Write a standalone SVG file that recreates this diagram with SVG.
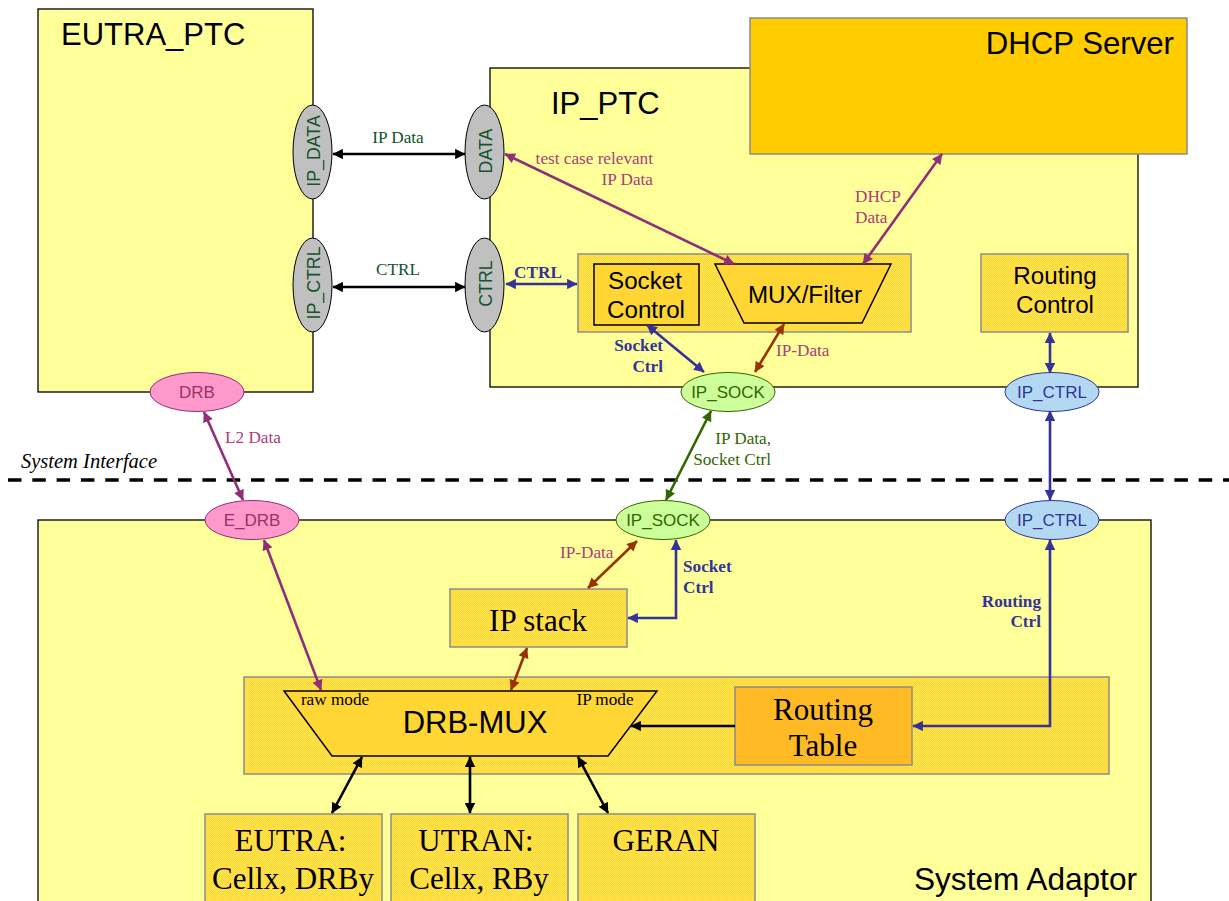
<svg xmlns="http://www.w3.org/2000/svg" width="1229" height="901" viewBox="0 0 1229 901">
<style>
text{font-family:"Liberation Serif",serif}
.a{font-family:"Liberation Sans",sans-serif}
.m{text-anchor:middle}.e{text-anchor:end}
.big{fill:#ffff99;stroke:#000;stroke-width:1.3}
.y{fill:url(#dither);stroke:#8c8c8c;stroke-width:1.5}
.t{fill:#ffd633;stroke:#000;stroke-width:1.5}
.g{fill:#c0c0c0;stroke:#000;stroke-width:1}
.l{font-size:17.2px}
.p{fill:#a8417c}.b{fill:#333399;font-weight:bold}.d{fill:#14532d}
.c{fill:none;stroke-width:2.6}
.k{stroke:#000}.bl{stroke:#333399}.pu{stroke:#8f2f78}.br{stroke:#993300}.gr{stroke:#336600}
.h1{font-size:31px}.h2{font-size:24.2px}
.s{font-size:31px}
.pt{font-size:17px}
.rt{font-size:17.8px}
</style>
<defs>
<pattern id="dither" width="2" height="2" patternUnits="userSpaceOnUse"><rect width="2" height="2" fill="#ffd633"/><rect width="1" height="1" fill="#ffe650"/><rect x="1" y="1" width="1" height="1" fill="#ffe650"/></pattern>
<pattern id="dither2" width="2" height="2" patternUnits="userSpaceOnUse"><rect width="2" height="2" fill="#ffb31a"/><rect width="1" height="1" fill="#ffc02e"/><rect x="1" y="1" width="1" height="1" fill="#ffc02e"/></pattern>
<marker id="mk" viewBox="0 0 10 10" refX="9.5" refY="5" markerWidth="4.2" markerHeight="4" orient="auto-start-reverse"><path d="M0 0L10 5L0 10z" fill="#000"/></marker>
<marker id="mb" viewBox="0 0 10 10" refX="9.5" refY="5" markerWidth="4.2" markerHeight="4" orient="auto-start-reverse"><path d="M0 0L10 5L0 10z" fill="#333399"/></marker>
<marker id="mp" viewBox="0 0 10 10" refX="9.5" refY="5" markerWidth="4.2" markerHeight="4" orient="auto-start-reverse"><path d="M0 0L10 5L0 10z" fill="#8f2f78"/></marker>
<marker id="mr" viewBox="0 0 10 10" refX="9.5" refY="5" markerWidth="4.2" markerHeight="4" orient="auto-start-reverse"><path d="M0 0L10 5L0 10z" fill="#993300"/></marker>
<marker id="mg" viewBox="0 0 10 10" refX="9.5" refY="5" markerWidth="4.2" markerHeight="4" orient="auto-start-reverse"><path d="M0 0L10 5L0 10z" fill="#336600"/></marker>
</defs>
<rect width="1229" height="901" fill="#fff"/>
<g id="eutra-ptc"><rect class="big" x="38" y="9" width="275" height="383"/><text class="a h1" x="61" y="45">EUTRA_PTC</text></g>
<g id="ip-ptc"><rect class="big" x="490" y="68" width="648" height="319"/><text class="a h1" x="551" y="114">IP_PTC</text></g>
<g id="dhcp-server"><rect x="750" y="18" width="437" height="136" fill="#ffcc00" stroke="#8c8c8c" stroke-width="1.5"/><text class="a e" font-size="31.2" x="1174" y="54">DHCP Server</text></g>
<g id="system-adaptor"><rect class="big" x="38" y="520" width="1113" height="395"/><text class="a e" font-size="31.6" x="1137" y="890">System Adaptor</text></g>
<g id="socket-mux-panel"><rect class="y" x="578" y="254" width="333" height="78"/></g>
<g id="socket-control"><rect class="t" x="594" y="264" width="105" height="61"/><text class="a h2 m" x="645" y="289">Socket</text><text class="a h2 m" x="646" y="318">Control</text></g>
<g id="mux-filter"><path class="t" d="M715 264H891L862 323H744z"/><text class="a h2 m" x="805" y="303">MUX/Filter</text></g>
<g id="routing-control"><rect class="y" x="981" y="254" width="147" height="78"/><text class="a h2 m" x="1055" y="284">Routing</text><text class="a h2 m" x="1055" y="313">Control</text></g>
<g id="drb-panel"><rect class="y" x="244" y="677" width="865" height="97"/></g>
<g id="drb-mux"><path class="t" d="M284 691H657L608 756H332z"/><text class="m l" x="335" y="705">raw mode</text><text class="m l" x="605" y="705">IP mode</text><text class="a m s" x="475" y="733">DRB-MUX</text></g>
<g id="routing-table"><rect x="735" y="687" width="177" height="78" fill="url(#dither2)" stroke="#8c8c8c" stroke-width="1.5"/><text class="m s" x="823" y="720">Routing</text><text class="m s" x="823" y="756">Table</text></g>
<g id="ip-stack"><rect class="y" x="450" y="589" width="177" height="58"/><text class="m s" x="538" y="631">IP stack</text></g>
<g id="eutra-cell"><rect class="y" x="205" y="814" width="177" height="100"/><text class="m s" x="290.5" y="851">EUTRA:</text><text class="m s" x="293" y="889">Cellx, DRBy</text></g>
<g id="utran-cell"><rect class="y" x="391" y="814" width="177" height="100"/><text class="m s" x="476" y="851">UTRAN:</text><text class="m s" x="479" y="889">Cellx, RBy</text></g>
<g id="geran"><rect class="y" x="578" y="814" width="177" height="100"/><text class="m s" x="666" y="851">GERAN</text></g>
<g id="port-ip-data"><ellipse class="g" cx="312.5" cy="152" rx="19.5" ry="47"/><text class="a m d rt" transform="translate(320 151) rotate(-90)">IP_DATA</text></g>
<g id="port-ip-ctrl-eutra"><ellipse class="g" cx="312.5" cy="285" rx="19.5" ry="47"/><text class="a m d rt" transform="translate(320 283) rotate(-90)">IP_CTRL</text></g>
<g id="port-data"><ellipse class="g" cx="484.5" cy="152" rx="19.5" ry="47"/><text class="a m d rt" transform="translate(491.5 151) rotate(-90)">DATA</text></g>
<g id="port-ctrl"><ellipse class="g" cx="484.5" cy="285" rx="19.5" ry="47"/><text class="a m d rt" transform="translate(491.5 283.5) rotate(-90)">CTRL</text></g>
<g id="port-drb"><ellipse cx="197" cy="392" rx="47" ry="19.5" fill="#ff99cc" stroke="#8f2f78"/><text class="a m pt" x="197" y="398" fill="#993366">DRB</text></g>
<g id="port-e-drb"><ellipse cx="252" cy="520" rx="47" ry="19.5" fill="#ff99cc" stroke="#8f2f78"/><text class="a m pt" x="252" y="526" fill="#993366">E_DRB</text></g>
<g id="port-ip-sock-top"><ellipse cx="728" cy="392" rx="47" ry="19.5" fill="#ccff99" stroke="#336600"/><text class="a m pt" x="728" y="398" fill="#336600">IP_SOCK</text></g>
<g id="port-ip-sock-bottom"><ellipse cx="663" cy="520" rx="47" ry="19.5" fill="#ccff99" stroke="#336600"/><text class="a m pt" x="663" y="526" fill="#336600">IP_SOCK</text></g>
<g id="port-ip-ctrl-top"><ellipse cx="1052" cy="392" rx="47" ry="19.5" fill="#b3d9f2" stroke="#333399"/><text class="a m pt" x="1052" y="398" fill="#333399">IP_CTRL</text></g>
<g id="port-ip-ctrl-bottom"><ellipse cx="1052" cy="520" rx="47" ry="19.5" fill="#b3d9f2" stroke="#333399"/><text class="a m pt" x="1052" y="526" fill="#333399">IP_CTRL</text></g>
<g id="system-interface"><path d="M8 480H1229" fill="none" stroke="#000" stroke-width="3.6" stroke-dasharray="13.5 10.8"/><text x="21" y="468" font-size="20.5" font-style="italic">System Interface</text></g>
<g id="connectors">
<path class="c k" marker-start="url(#mk)" marker-end="url(#mk)" d="M333 154H465"/>
<path class="c k" marker-start="url(#mk)" marker-end="url(#mk)" d="M333 287H465"/>
<path class="c bl" marker-start="url(#mb)" marker-end="url(#mb)" d="M506 284H577"/>
<path class="c pu" marker-start="url(#mp)" marker-end="url(#mp)" d="M505 154L734 264"/>
<path class="c pu" marker-start="url(#mp)" marker-end="url(#mp)" d="M863 264L942 154"/>
<path class="c bl" marker-start="url(#mb)" marker-end="url(#mb)" d="M647 325L704 372"/>
<path class="c br" marker-start="url(#mr)" marker-end="url(#mr)" d="M784 324L755 372"/>
<path class="c bl" marker-start="url(#mb)" marker-end="url(#mb)" d="M1050 333V373"/>
<path class="c pu" marker-start="url(#mp)" marker-end="url(#mp)" d="M204 412L243 500"/>
<path class="c gr" marker-start="url(#mg)" marker-end="url(#mg)" d="M711 411L666 500"/>
<path class="c bl" marker-start="url(#mb)" marker-end="url(#mb)" d="M1050 411V500"/>
<path class="c pu" marker-start="url(#mp)" marker-end="url(#mp)" d="M264 540L321 690"/>
<path class="c br" marker-start="url(#mr)" marker-end="url(#mr)" d="M637 541L588 588"/>
<path class="c bl" marker-start="url(#mb)" marker-end="url(#mb)" d="M676 540V618H628"/>
<path class="c br" marker-start="url(#mr)" marker-end="url(#mr)" d="M527 648L511 690"/>
<path class="c k" marker-end="url(#mk)" d="M735 726H631"/>
<path class="c bl" marker-start="url(#mb)" marker-end="url(#mb)" d="M1050 540V726H913"/>
<path class="c k" marker-start="url(#mk)" marker-end="url(#mk)" d="M362 757L332 813"/>
<path class="c k" marker-start="url(#mk)" marker-end="url(#mk)" d="M470 757V813"/>
<path class="c k" marker-start="url(#mk)" marker-end="url(#mk)" d="M578 757L608 813"/>
</g>
<g id="labels">
<text class="l m d" x="398" y="143">IP Data</text>
<text class="l m d" x="398" y="275">CTRL</text>
<text class="l m b" x="538" y="278">CTRL</text>
<text class="l e p" x="653" y="164">test case relevant</text>
<text class="l e p" x="653" y="185">IP Data</text>
<text class="l p" x="855" y="202">DHCP</text>
<text class="l p" x="855" y="223">Data</text>
<text class="l e b" x="663" y="351">Socket</text>
<text class="l e b" x="663" y="372">Ctrl</text>
<text class="l p" x="776" y="356">IP-Data</text>
<text class="l p" x="225" y="443">L2 Data</text>
<text class="l e" x="771" y="444" fill="#336600">IP Data,</text>
<text class="l e" x="771" y="465" fill="#336600">Socket Ctrl</text>
<text class="l p" x="560" y="558">IP-Data</text>
<text class="l b" x="683" y="572">Socket</text>
<text class="l b" x="683" y="593">Ctrl</text>
<text class="l e b" x="1041" y="607">Routing</text>
<text class="l e b" x="1041" y="627">Ctrl</text>
</g>
</svg>
